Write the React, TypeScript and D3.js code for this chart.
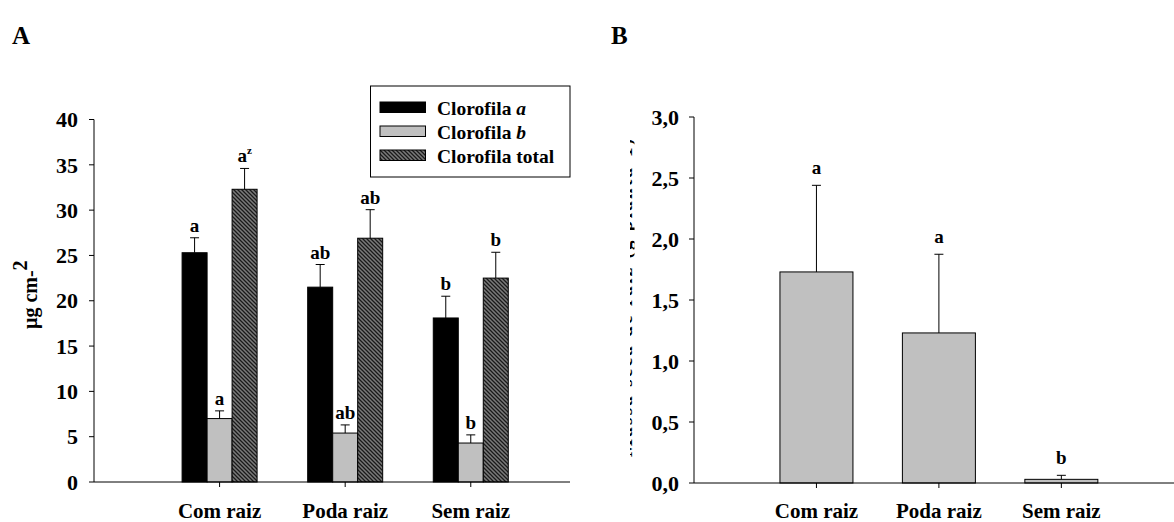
import React from 'react';
import * as d3 from 'd3';

// categories shared by both panels
const categories = ['Com raiz', 'Poda raiz', 'Sem raiz'];

// panel A – clorofila (µg cm-2), mean and +SE
const chlA = [25.3, 21.5, 18.1];
const chlAErr = [1.65, 2.5, 2.4];
const chlB = [7.0, 5.4, 4.3];
const chlBErr = [0.85, 0.9, 0.9];
const chlTotal = [32.3, 26.9, 22.5];
const chlTotalErr = [2.3, 3.15, 2.85];
const lettersA = ['a', 'ab', 'b'];
const lettersB = ['a', 'ab', 'b'];
const lettersTotal = ['a', 'ab', 'b'];
const ticksA = [0, 5, 10, 15, 20, 25, 30, 35, 40];

// panel B
const massB = [1.73, 1.23, 0.03];
const massBErr = [0.71, 0.645, 0.033];
const lettersMass = ['a', 'a', 'b'];
const ticksB = [0, 0.5, 1, 1.5, 2, 2.5, 3];

const font = '"Liberation Serif", "Times New Roman", serif';

const App = () => {
  const W = 1174;
  const H = 522;

  // ---- panel A scales
  const xA = d3.scaleLinear().domain([0, 3.79]).range([94, 570]);
  const yA = d3.scaleLinear().domain([0, 40]).range([482, 119.5]);
  const barW = 25;

  const seriesA = [
    { key: 'a', vals: chlA, errs: chlAErr, letters: lettersA, fill: '#000' },
    { key: 'b', vals: chlB, errs: chlBErr, letters: lettersB, fill: '#c0c0c0' },
    { key: 't', vals: chlTotal, errs: chlTotalErr, letters: lettersTotal, fill: 'url(#hatch)' },
  ];

  // ---- panel B scales
  const xB = d3.scaleLinear().domain([0, 3.92]).range([694, 1174]);
  const yB = d3.scaleLinear().domain([0, 3]).range([483, 117]);
  const barWB = 73;
  const fmtB = (v: number) => d3.format('.1f')(v).replace('.', ',');

  const errBar = (cx: number, y0: number, y1: number, k: string) => (
    <g key={k} stroke="#000" strokeWidth={1}>
      <line x1={cx} x2={cx} y1={y0} y2={y1} />
      <line x1={cx - 4.5} x2={cx + 4.5} y1={y1} y2={y1} />
    </g>
  );

  return (
    <svg
      width={W}
      height={H}
      style={{ position: 'absolute', left: 0, top: 0, background: '#fff' }}
      fontFamily={font}
      fontWeight="bold"
    >
      <defs>
        <pattern id="hatch" width={4} height={4} patternUnits="userSpaceOnUse">
          <rect width={4} height={4} fill="#7a7a7a" />
          <path d="M-1,-1 L5,5 M-1,3 L1,5 M3,-1 L5,1" stroke="#1a1a1a" strokeWidth={1.3} />
        </pattern>
        <clipPath id="ylabB">
          <rect x={630} y={130} width={4.5} height={340} />
        </clipPath>
      </defs>

      {/* panel letters */}
      <text x={12} y={44} fontSize={25}>A</text>
      <text x={611} y={44} fontSize={25}>B</text>

      {/* ===== Panel A ===== */}
      {seriesA.map((s, si) =>
        s.vals.map((v, i) => {
          const cx = xA(i + 1) + (si - 1) * barW;
          const top = yA(v);
          const errTop = yA(v + s.errs[i]);
          return (
            <g key={`${s.key}-${i}`}>
              <rect
                x={cx - barW / 2}
                y={top}
                width={barW}
                height={yA(0) - top}
                fill={s.fill}
                stroke="#000"
                strokeWidth={1}
              />
              {errBar(cx, top, errTop, 'e')}
              <text x={cx} y={errTop - 6} fontSize={19} textAnchor="middle">
                {s.letters[i]}
                {s.key === 't' && i === 0 ? (
                  <tspan fontSize={11} dy={-8}>z</tspan>
                ) : null}
              </text>
            </g>
          );
        })
      )}

      {/* axes A */}
      <line x1={94} x2={94} y1={yA(40)} y2={yA(0)} stroke="#000" />
      <line x1={94} x2={570} y1={yA(0)} y2={yA(0)} stroke="#000" />
      {ticksA.map(t => (
        <g key={t}>
          <line x1={89} x2={94} y1={yA(t)} y2={yA(t)} stroke="#000" />
          <text x={78} y={yA(t)} dy="0.35em" fontSize={22} textAnchor="end">{t}</text>
        </g>
      ))}
      {categories.map((c, i) => (
        <g key={c}>
          <line x1={xA(i + 1)} x2={xA(i + 1)} y1={yA(0)} y2={yA(0) + 5} stroke="#000" />
          <text x={xA(i + 1)} y={518} fontSize={21} textAnchor="middle">{c}</text>
        </g>
      ))}
      <text transform={`translate(37,${yA(20) - 6}) rotate(-90)`} fontSize={20} textAnchor="middle">
        µg cm-<tspan dy={-10}>2</tspan>
      </text>

      {/* legend */}
      <rect x={370.5} y={86} width={199.5} height={91} fill="#fff" stroke="#000" />
      {seriesA.map((s, i) => (
        <g key={s.key} transform={`translate(380,${102 + i * 24})`}>
          <rect width={45.5} height={10.5} fill={s.fill} stroke="#000" />
          <text x={57} y={13} fontSize={19.5}>
            {s.key === 't' ? 'Clorofila total' : (
              <>Clorofila <tspan fontStyle="italic">{s.key}</tspan></>
            )}
          </text>
        </g>
      ))}

      {/* ===== Panel B ===== */}
      {massB.map((v, i) => {
        const cx = xB(i + 1);
        const top = yB(v);
        const errTop = yB(v + massBErr[i]);
        return (
          <g key={`m-${i}`}>
            <rect
              x={cx - barWB / 2}
              y={top}
              width={barWB}
              height={yB(0) - top}
              fill="#c0c0c0"
              stroke="#000"
              strokeWidth={1}
            />
            {errBar(cx, top, errTop, 'e')}
            <text x={cx} y={errTop - 11} fontSize={19} textAnchor="middle">{lettersMass[i]}</text>
          </g>
        );
      })}
      <line x1={694} x2={694} y1={yB(3)} y2={yB(0)} stroke="#000" />
      <line x1={694} x2={1174} y1={yB(0)} y2={yB(0)} stroke="#000" />
      {ticksB.map(t => (
        <g key={t}>
          <line x1={689} x2={694} y1={yB(t)} y2={yB(t)} stroke="#000" />
          <text x={679} y={yB(t)} dy="0.35em" fontSize={22} textAnchor="end">{fmtB(t)}</text>
        </g>
      ))}
      {categories.map((c, i) => (
        <g key={`b-${c}`}>
          <line x1={xB(i + 1)} x2={xB(i + 1)} y1={yB(0)} y2={yB(0) + 5} stroke="#000" />
          <text x={xB(i + 1)} y={518} fontSize={21} textAnchor="middle">{c}</text>
        </g>
      ))}
      {/* y label of B is cut off in the original, only a sliver shows */}
      <g clipPath="url(#ylabB)">
        <text
          transform="translate(632,298) rotate(-90)"
          fontSize={19}
          textAnchor="middle"
          textLength={318}
          lengthAdjust="spacing"
        >
          Massa seca de raiz (g planta-1)
        </text>
      </g>
    </svg>
  );
};

export default App;
